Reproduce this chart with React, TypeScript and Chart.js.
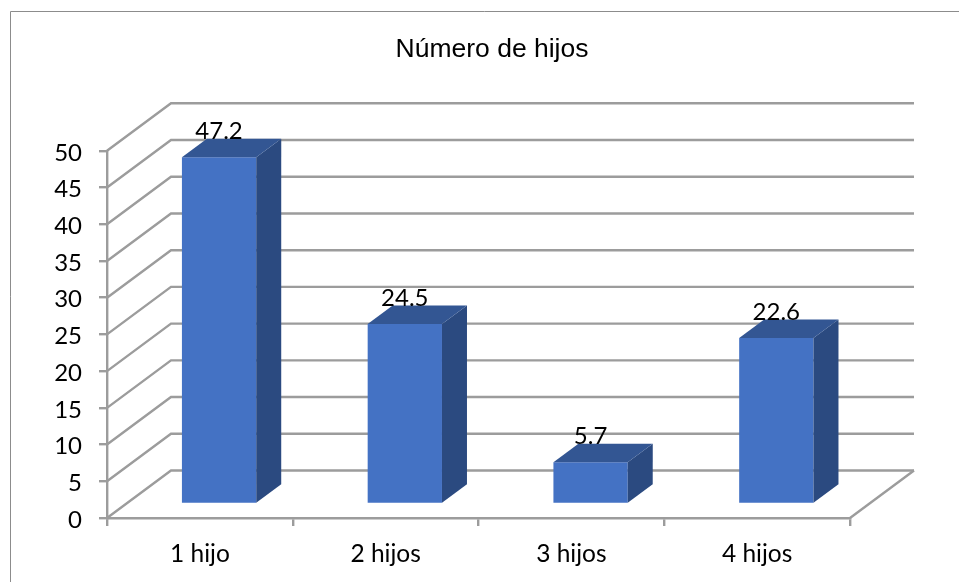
import { useEffect, useRef } from "react";
import { Chart, registerables } from "chart.js";

Chart.register(...registerables);

const categories = ["1 hijo", "2 hijos", "3 hijos", "4 hijos"];
const values = [47.2, 24.5, 5.7, 22.6];
const titleText = "Número de hijos";

const WALL = { dx: 64, dy: -47.5 };
const BAR = { dx: 19.2, dy: -14, depthX: 25, depthY: -18.5 };
const FRONT = "#4472C4";
const SIDE = "#2B4A80";
const TOP = "#335693";
const GRID = "#9C9C9C";
const FRAME = "#8C8C8C";
const LABEL_FONT = '24px Lato';

const line = (ctx: CanvasRenderingContext2D, pts: number[][]) => {
  ctx.beginPath();
  pts.forEach(([x, y], i) => (i ? ctx.lineTo(x, y) : ctx.moveTo(x, y)));
  ctx.stroke();
};

const poly = (ctx: CanvasRenderingContext2D, pts: number[][], color: string) => {
  ctx.fillStyle = color;
  ctx.beginPath();
  pts.forEach(([x, y], i) => (i ? ctx.lineTo(x, y) : ctx.moveTo(x, y)));
  ctx.closePath();
  ctx.fill();
};

const threeD = {
  id: "threeD",
  afterLayout(chart: any) {
    chart.titleBlock.left = 25;
    chart.titleBlock.right = 959;
  },
  beforeDraw(chart: any) {
    const ctx = chart.ctx;
    ctx.save();
    ctx.strokeStyle = FRAME;
    ctx.lineWidth = 1;
    line(ctx, [[10.5, 582], [10.5, 11.5], [959, 11.5]]);
    ctx.restore();
  },
  beforeDatasetsDraw(chart: any) {
    const ctx = chart.ctx;
    const { left, right } = chart.chartArea;
    const y = chart.scales.y;
    ctx.save();
    ctx.strokeStyle = GRID;
    ctx.lineWidth = 2.4;
    ctx.lineJoin = "miter";
    y.ticks.forEach((t: any) => {
      const py = y.getPixelForValue(t.value);
      line(ctx, [
        [left, py],
        [left + WALL.dx, py + WALL.dy],
        [right + WALL.dx, py + WALL.dy],
      ]);
    });
    const base = y.getPixelForValue(0);
    line(ctx, [
      [right, base],
      [right + WALL.dx, base + WALL.dy],
    ]);
    ctx.restore();
    ctx.save();
    ctx.translate(BAR.dx, BAR.dy);
  },
  afterDatasetsDraw(chart: any) {
    const ctx = chart.ctx;
    ctx.restore();
    const meta = chart.getDatasetMeta(0);
    ctx.save();
    meta.data.forEach((bar: any, i: number) => {
      const p = bar.getProps(["x", "y", "base", "width"], true);
      const l = p.x - p.width / 2 + BAR.dx;
      const r = p.x + p.width / 2 + BAR.dx;
      const t = p.y + BAR.dy;
      const b = p.base + BAR.dy;
      poly(ctx, [[r, t], [r + BAR.depthX, t + BAR.depthY], [r + BAR.depthX, b + BAR.depthY], [r, b]], SIDE);
      poly(ctx, [[l, t], [l + BAR.depthX, t + BAR.depthY], [r + BAR.depthX, t + BAR.depthY], [r, t]], TOP);
      ctx.fillStyle = "#000000";
      ctx.font = LABEL_FONT;
      ctx.textAlign = "center";
      ctx.textBaseline = "alphabetic";
      ctx.fillText(String(values[i]), p.x + BAR.dx, t + BAR.depthY);
    });
    ctx.restore();
  },
};

export default function App() {
  const ref = useRef<HTMLCanvasElement>(null);
  useEffect(() => {
    const chart = new Chart(ref.current as HTMLCanvasElement, {
      type: "bar",
      data: {
        labels: categories,
        datasets: [
          {
            data: values,
            backgroundColor: FRONT,
            barPercentage: 0.4,
            categoryPercentage: 1,
            clip: false,
          },
        ],
      },
      plugins: [threeD],
      options: {
        responsive: false,
        animation: false,
        layout: { padding: { left: 10, right: 109, top: 0, bottom: 0 } },
        plugins: {
          legend: { display: false },
          tooltip: { enabled: false },
          title: {
            display: true,
            text: titleText,
            color: "#000000",
            font: { family: '"Liberation Sans"', size: 26.5, weight: "normal" },
            padding: { top: 34, bottom: 85 },
          },
        },
        scales: {
          x: {
            afterFit: (s: any) => {
              s.height = 64;
            },
            grid: { drawOnChartArea: false, drawTicks: true, tickLength: 8, color: GRID, lineWidth: 2.4 },
            border: { display: true, color: GRID, width: 2.4 },
            ticks: { color: "#000000", font: { family: "Lato", size: 24.5 }, padding: 13, maxRotation: 0 },
          },
          y: {
            min: 0,
            max: 50,
            afterFit: (s: any) => {
              s.width = 97;
            },
            grid: { drawOnChartArea: false, drawTicks: true, tickLength: 8, color: GRID, lineWidth: 2.4 },
            border: { display: true, color: GRID, width: 2.4 },
            ticks: { stepSize: 5, color: "#000000", font: { family: "Lato", size: 24 }, padding: 17, labelOffset: 2 },
          },
        },
      },
    } as any);
    return () => chart.destroy();
  }, []);
  return (
    <canvas
      ref={ref}
      width={959}
      height={582}
      style={{ position: "absolute", left: 0, top: 0, display: "block" }}
    />
  );
}
